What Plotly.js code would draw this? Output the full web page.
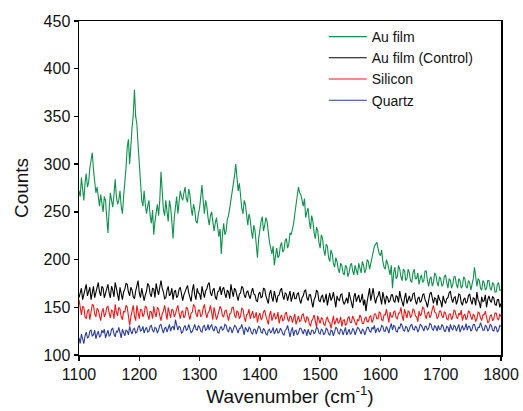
<!DOCTYPE html>
<html>
<head>
<meta charset="utf-8">
<script src="https://cdn.plot.ly/plotly-3.0.1.min.js"></script>
<style>html,body{margin:0;padding:0;background:#fff;}#chart{width:523px;height:411px;}</style>
</head>
<body>
<div id="chart"></div>
<script>
const wavenumber = [
1100,1102,1104,1106,1108,1110,1112,1114,1116,1118,1120,1122,1124,1126,1128,1130,1132,1134,1136,1138,
1140,1142,1144,1146,1148,1150,1152,1154,1156,1158,1160,1162,1164,1166,1168,1170,1172,1174,1176,1178,
1180,1182,1184,1186,1188,1190,1192,1194,1196,1198,1200,1202,1204,1206,1208,1210,1212,1214,1216,1218,
1220,1222,1224,1226,1228,1230,1232,1234,1236,1238,1240,1242,1244,1246,1248,1250,1252,1254,1256,1258,
1260,1262,1264,1266,1268,1270,1272,1274,1276,1278,1280,1282,1284,1286,1288,1290,1292,1294,1296,1298,
1300,1302,1304,1306,1308,1310,1312,1314,1316,1318,1320,1322,1324,1326,1328,1330,1332,1334,1336,1338,
1340,1342,1344,1346,1348,1350,1352,1354,1356,1358,1360,1362,1364,1366,1368,1370,1372,1374,1376,1378,
1380,1382,1384,1386,1388,1390,1392,1394,1396,1398,1400,1402,1404,1406,1408,1410,1412,1414,1416,1418,
1420,1422,1424,1426,1428,1430,1432,1434,1436,1438,1440,1442,1444,1446,1448,1450,1452,1454,1456,1458,
1460,1462,1464,1466,1468,1470,1472,1474,1476,1478,1480,1482,1484,1486,1488,1490,1492,1494,1496,1498,
1500,1502,1504,1506,1508,1510,1512,1514,1516,1518,1520,1522,1524,1526,1528,1530,1532,1534,1536,1538,
1540,1542,1544,1546,1548,1550,1552,1554,1556,1558,1560,1562,1564,1566,1568,1570,1572,1574,1576,1578,
1580,1582,1584,1586,1588,1590,1592,1594,1596,1598,1600,1602,1604,1606,1608,1610,1612,1614,1616,1618,
1620,1622,1624,1626,1628,1630,1632,1634,1636,1638,1640,1642,1644,1646,1648,1650,1652,1654,1656,1658,
1660,1662,1664,1666,1668,1670,1672,1674,1676,1678,1680,1682,1684,1686,1688,1690,1692,1694,1696,1698,
1700,1702,1704,1706,1708,1710,1712,1714,1716,1718,1720,1722,1724,1726,1728,1730,1732,1734,1736,1738,
1740,1742,1744,1746,1748,1750,1752,1754,1756,1758,1760,1762,1764,1766,1768,1770,1772,1774,1776,1778,
1780,1782,1784,1786,1788,1790,1792,1794,1796,1798,1800];

const auFilm = [
272,266,286,274,262,280,290,276,281,296,305,312,294,284,270,276,262,256,268,258,
250,266,262,244,228,252,270,262,255,268,284,266,258,262,272,256,248,266,280,296,
318,326,300,322,338,352,378,350,342,320,300,276,262,256,272,258,248,256,262,246,
238,252,226,240,250,258,246,262,292,266,252,246,262,250,240,262,255,240,222,244,
258,266,248,258,272,266,262,270,276,264,260,274,268,254,246,258,252,240,238,248,
254,266,278,262,248,262,256,244,236,246,250,240,230,238,244,234,224,232,206,226,
238,226,230,242,246,254,262,270,278,288,300,284,272,280,262,254,248,262,258,244,
236,248,242,230,222,236,230,216,202,222,232,240,245,230,236,244,240,226,218,212,
206,214,194,204,212,202,204,214,218,208,210,220,222,212,216,228,226,232,238,248,
258,266,276,270,268,262,256,264,244,250,254,240,232,246,240,228,222,234,230,218,
212,226,222,210,204,216,214,202,198,210,206,196,192,202,198,190,186,196,194,186,
184,194,192,182,186,194,196,188,184,194,190,184,196,190,186,198,194,186,190,200,
198,190,196,204,208,214,216,218,212,206,204,210,198,192,190,200,196,188,184,194,
170,186,192,180,182,194,190,182,178,190,188,178,180,190,186,178,176,186,190,180,
180,186,174,180,184,176,178,188,188,178,172,180,182,172,176,186,184,176,172,182,
180,172,174,182,184,176,170,180,178,170,174,182,182,174,170,180,178,170,172,182,
180,172,170,178,176,168,174,180,192,178,172,180,178,170,168,178,176,168,170,178,
178,170,168,176,174,166,166,174,176,168,168];

const auFilmControl = [
160,166,170,158,163,168,174,162,166,171,158,164,172,160,165,170,176,166,162,172,
170,160,164,169,174,165,160,172,168,161,176,170,163,157,171,165,158,166,169,175,
174,166,162,171,168,161,159,167,172,178,165,160,170,164,157,163,167,175,173,164,
161,170,169,160,175,168,163,171,178,170,166,159,160,168,172,162,164,170,158,166,
168,160,162,169,171,164,157,163,166,171,173,165,160,156,168,174,163,158,170,165,
164,158,172,166,160,167,169,174,176,165,162,168,170,161,158,166,167,172,163,169,
171,164,160,168,166,159,174,167,161,170,168,162,157,164,165,172,170,163,160,166,
167,162,159,166,170,164,163,157,156,164,166,160,161,170,169,162,158,154,164,168,
160,156,167,161,155,162,163,168,170,162,158,165,164,157,161,167,156,160,166,159,
159,164,165,158,154,160,162,167,168,160,157,163,163,156,150,158,161,168,166,157,
156,161,163,155,158,164,152,159,165,157,160,166,155,150,162,158,157,163,164,156,
153,158,160,154,166,160,155,149,161,165,156,160,163,155,158,164,152,158,146,156,
164,170,157,162,170,160,154,160,162,167,159,153,166,158,153,162,160,155,157,163,
163,157,155,162,161,155,167,160,156,151,160,165,154,159,162,156,158,164,165,157,
153,159,161,155,157,163,164,158,155,150,160,164,166,158,154,160,159,152,163,158,
156,150,162,157,154,159,160,165,167,159,155,160,161,153,157,164,163,155,152,158,
160,154,156,162,164,157,153,160,159,152,166,158,155,149,161,156,157,163,150,158,
162,157,155,161,160,153,152,158,158,150,154];

const silicon = [
158,148,142,151,150,140,138,146,148,137,144,153,152,143,140,149,147,141,136,145,
149,140,143,150,151,144,139,147,146,138,153,145,141,150,148,140,137,146,145,152,
150,141,131,140,146,152,141,136,152,145,138,148,147,140,143,151,150,142,137,146,
145,138,151,144,140,150,148,141,136,143,146,152,142,137,150,144,139,148,147,140,
143,148,152,144,138,145,146,139,141,150,149,142,137,144,145,153,151,143,140,147,
147,140,142,149,153,145,139,144,146,152,143,137,150,144,137,141,145,151,148,141,
140,146,147,139,136,143,144,150,150,142,139,146,145,138,141,149,148,140,135,142,
143,148,138,142,146,139,140,145,134,141,144,137,139,145,147,141,137,132,142,146,
136,141,144,138,139,145,133,139,142,136,137,143,145,138,135,141,140,134,138,143,
132,138,141,135,136,142,143,137,134,140,139,133,130,136,138,142,135,129,141,136,
133,139,138,132,131,137,140,135,134,128,137,141,132,136,139,133,135,140,130,136,
137,131,133,139,140,134,134,141,138,133,131,137,136,142,139,133,133,138,140,135,
135,140,141,134,137,143,143,138,138,145,144,137,136,142,142,148,139,134,145,140,
140,145,146,139,138,144,144,150,141,136,148,142,139,146,145,139,142,148,147,141,
140,135,146,141,143,150,149,142,138,144,145,139,142,148,152,145,144,138,140,146,
146,141,139,145,144,138,137,143,143,137,140,147,146,140,138,144,142,147,136,141,
143,137,139,146,145,140,137,143,141,135,138,145,144,139,136,142,142,146,139,134,
135,141,142,136,138,144,144,138,137,143,140];

const quartz = [
118,112,122,117,112,120,124,118,119,125,126,120,121,126,117,122,125,119,120,126,
123,127,118,122,126,120,121,127,128,122,119,125,124,129,122,118,127,123,120,126,
125,121,130,125,122,127,128,123,124,129,131,125,126,130,123,127,129,124,125,130,
131,126,124,129,128,123,126,131,132,127,123,128,129,124,127,132,125,129,130,126,
137,130,126,130,129,123,124,129,131,126,127,132,128,123,125,130,132,127,126,131,
129,125,124,130,131,126,127,132,126,130,132,127,125,130,129,124,123,128,130,126,
127,132,131,126,124,129,128,123,126,131,130,125,123,128,128,132,125,121,129,126,
124,129,128,123,122,127,127,122,125,130,129,124,123,128,126,122,121,126,127,123,
125,129,122,126,128,123,124,128,126,122,121,126,127,131,123,119,125,129,120,125,
126,121,123,128,128,124,122,127,125,120,127,123,121,126,126,122,124,129,128,123,
122,127,126,121,123,128,127,122,121,126,125,120,124,129,128,123,122,127,126,121,
125,129,121,125,127,122,123,128,126,121,124,129,128,124,122,127,126,121,125,129,
129,125,124,129,127,131,123,127,128,124,126,131,130,125,125,130,127,123,129,133,
126,131,130,125,124,129,128,133,131,126,125,130,129,124,127,131,132,127,126,130,
129,124,127,132,131,127,125,130,130,126,128,133,132,127,126,131,129,125,131,127,
127,132,130,125,125,130,129,124,132,128,126,131,130,125,128,132,124,128,131,126,
128,133,126,130,130,125,127,132,132,127,125,129,129,134,131,126,126,131,130,125,
127,132,131,126,125,130,129,124,126,131,130];

const seriesNames = ["Au film", "Au film (Control)", "Silicon", "Quartz"];
const seriesData = [auFilm, auFilmControl, silicon, quartz];
const seriesColors = ["#0e914d", "#000000", "#f01818", "#2a3c9e"];

const traces = seriesData.map((ys, i) => ({
  type: "scatter", mode: "lines", x: wavenumber, y: ys, name: seriesNames[i],
  line: {color: seriesColors[i], width: 1.1}
}));

const font = "Liberation Sans, Arial, sans-serif";
const layout = {
  width: 523, height: 411,
  margin: {l: 79, r: 22, t: 21, b: 56},
  paper_bgcolor: "#fff", plot_bgcolor: "#fff",
  font: {family: font, color: "#111"},
  showlegend: true,
  legend: {x: 0.58, y: 1.0, xanchor: "left", yanchor: "top", bgcolor: "rgba(0,0,0,0)",
           font: {size: 14, family: font}, itemwidth: 38, tracegroupgap: 0},
  xaxis: {range: [1100, 1800], tickvals: [1100,1200,1300,1400,1500,1600,1700,1800],
          showline: true, mirror: true, linecolor: "#000", linewidth: 1.5,
          ticks: "outside", ticklen: 4, tickwidth: 1.5, tickcolor: "#000",
          showgrid: false, zeroline: false, tickfont: {size: 16, family: font},
          title: {text: "Wavenumber (cm<sup>-1</sup>)", font: {size: 19, family: font}, standoff: 8}},
  yaxis: {range: [100, 450], tickvals: [100,150,200,250,300,350,400,450],
          showline: true, mirror: true, linecolor: "#000", linewidth: 1.5,
          ticks: "outside", ticklen: 4, tickwidth: 1.5, tickcolor: "#000",
          showgrid: false, zeroline: false, tickfont: {size: 16, family: font},
          title: {text: "Counts", font: {size: 19, family: font}, standoff: 10}}
};
Plotly.newPlot("chart", traces, layout, {displayModeBar: false, staticPlot: true});
</script>
</body>
</html>
